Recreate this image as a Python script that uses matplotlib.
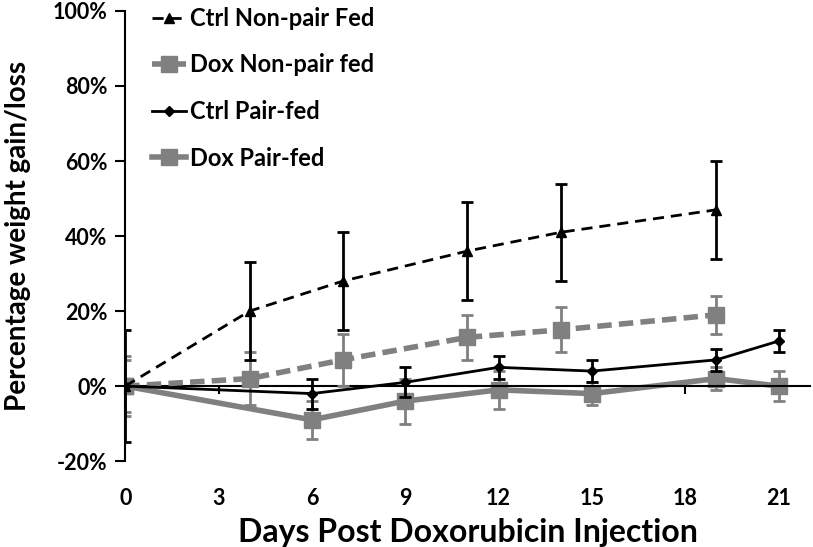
import matplotlib.pyplot as plt
from matplotlib.ticker import PercentFormatter

plt.rcParams['font.family'] = ['Lato', 'DejaVu Sans']
plt.rcParams['font.weight'] = 'bold'
plt.rcParams['axes.unicode_minus'] = False

# days and % weight change for each group
days_ctrl_np = [0, 4, 7, 11, 14, 19]
ctrl_np = [0, 20, 28, 36, 41, 47]
ctrl_np_err = [15, 13, 13, 13, 13, 13]

days_dox_np = [0, 4, 7, 11, 14, 19]
dox_np = [0, 2, 7, 13, 15, 19]
dox_np_err = [8, 7, 7, 6, 6, 5]

days_pair = [0, 6, 9, 12, 15, 19, 21]
ctrl_pf = [0, -2, 1, 5, 4, 7, 12]
ctrl_pf_err = [0, 4, 4, 3, 3, 3, 3]

dox_pf = [0, -9, -4, -1, -2, 2, 0]
dox_pf_err = [7, 5, 6, 5, 3, 3, 4]

labels = ['Ctrl Non-pair Fed', 'Dox Non-pair fed', 'Ctrl Pair-fed', 'Dox Pair-fed']
x_ticks = [0, 3, 6, 9, 12, 15, 18, 21]
y_ticks = [-20, 0, 20, 40, 60, 80, 100]

gray = '#808080'

fig = plt.figure(figsize=(8.13, 5.47), dpi=100)
ax = fig.add_axes([0.154, 0.157, 0.842, 0.823])

c1 = ax.errorbar(days_ctrl_np, ctrl_np, yerr=ctrl_np_err, color='black', ls=(0, (4, 2.5)), lw=2,
                 marker='^', ms=7, elinewidth=2, capsize=4, capthick=2, zorder=4)
c2 = ax.errorbar(days_dox_np, dox_np, yerr=dox_np_err, color=gray, ls=(0, (2.6, 1.3)), lw=4,
                 marker='s', ms=11, elinewidth=2, capsize=4, capthick=2, zorder=3)
c3 = ax.errorbar(days_pair, ctrl_pf, yerr=ctrl_pf_err, color='black', ls='-', lw=2,
                 marker='D', ms=5, elinewidth=2, capsize=4, capthick=2, zorder=5)
c4 = ax.errorbar(days_pair, dox_pf, yerr=dox_pf_err, color=gray, ls='-', lw=4,
                 marker='s', ms=11, elinewidth=2, capsize=4, capthick=2, zorder=2)

ax.set_xlim(0, 22)
ax.set_ylim(-20, 100)
ax.set_yticks(y_ticks)
ax.yaxis.set_major_formatter(PercentFormatter(decimals=0))
ax.tick_params(axis='y', direction='out', length=7, width=1.5, labelsize=15.5, pad=6)

for s in ['top', 'right']:
    ax.spines[s].set_visible(False)
ax.spines['left'].set_linewidth(1.5)
ax.spines['bottom'].set_position(('data', 0))
ax.spines['bottom'].set_linewidth(1.5)
ax.set_xticks(x_ticks)
ax.tick_params(axis='x', direction='out', length=6, width=1.5, labelbottom=False)

# labels at the bottom of the plot, not on the zero line
sec = ax.secondary_xaxis('bottom')
sec.spines['bottom'].set_visible(False)
sec.set_xticks(x_ticks)
sec.tick_params(length=0, labelsize=15.5, pad=19)
sec.set_xlabel('Days Post Doxorubicin Injection', fontsize=23, fontweight='bold', labelpad=7)

ax.set_ylabel('Percentage weight gain/loss', fontsize=20, fontweight='bold', labelpad=15)

ax.legend([c1[0], c2[0], c3[0], c4[0]], labels, loc='upper left', frameon=False, fontsize=17,
          handlelength=1.4, labelspacing=1.0, handletextpad=0.2, borderaxespad=0,
          bbox_to_anchor=(0.026, 1.03))

plt.savefig('out.png')
